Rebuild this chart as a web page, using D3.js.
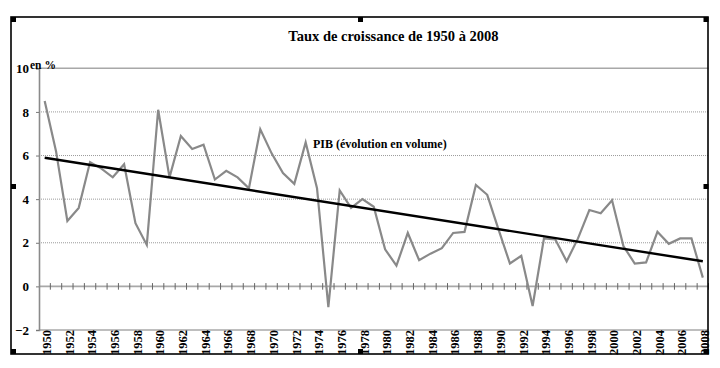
<!DOCTYPE html>
<html>
<head>
<meta charset="utf-8">
<script src="https://cdn.jsdelivr.net/npm/d3@7"></script>
<style>
  body { margin: 0; background: #fff; }
  svg { display: block; font-family: "Liberation Serif", "Times New Roman", serif; }
</style>
</head>
<body>
<div id="chart"></div>
<script>
// Data
const years = d3.range(1950, 2009);
const gdpGrowth = [
  8.5, 6.2, 3.0, 3.6, 5.7, 5.4, 5.0, 5.6, 2.9, 1.9,
  8.1, 5.0, 6.9, 6.3, 6.5, 4.9, 5.3, 5.0, 4.5, 7.2,
  6.1, 5.2, 4.7, 6.6, 4.5, -0.95, 4.4, 3.6, 4.0, 3.65,
  1.7, 0.95, 2.45, 1.2, 1.5, 1.75, 2.45, 2.5, 4.65, 4.2,
  2.6, 1.05, 1.4, -0.9, 2.2, 2.15, 1.15, 2.2, 3.5, 3.35,
  3.95, 1.85, 1.05, 1.1, 2.5, 1.95, 2.2, 2.2, 0.4
];
const trendEnds = [5.9, 1.15]; // linear trend at 1950 and 2008
const yTicks = [-2, 0, 2, 4, 6, 8, 10];
const labelYears = years.filter(y => (y - 1950) % 2 === 0);

const title = 'Taux de croissance de 1950 à 2008';
const seriesLabel = 'PIB (évolution en volume)';
const unitLabel = 'en %';

class GrowthChart {

    width; height; svg; plot;
    scaleX; scaleY;

    constructor(container, width, height) {
        this.width = width;
        this.height = height;
        this.svg = d3.select(container).append('svg')
            .attr('width', width)
            .attr('height', height);
        this.plot = { left: 39, right: 708.5, top: 68.3, bottom: 330 };
    }

    #frame() {
        this.svg.append('rect')
            .attr('x', 11).attr('y', 17)
            .attr('width', 697).attr('height', 337)
            .attr('fill', 'none')
            .attr('stroke', '#000')
            .attr('stroke-width', 1.6);

        // selection handles
        const handles = [[11, 17], [358, 17], [703.5, 17], [11, 184], [703.5, 184],
                         [11, 349], [358, 349], [703.5, 349]];
        this.svg.selectAll('rect.handle')
            .data(handles)
            .join('rect')
            .classed('handle', true)
            .attr('x', d => d[0]).attr('y', d => d[1])
            .attr('width', 5).attr('height', 5)
            .attr('fill', '#000');
    }

    #scales() {
        this.scaleX = d3.scaleBand(years, [this.plot.left, this.plot.right]);
        this.scaleY = d3.scaleLinear([-2, 10], [this.plot.bottom, this.plot.top]);
    }

    #grid() {
        const p = this.plot;
        const solid = d => d === 10 || d === -2 || d === 0;
        this.svg.append('g')
            .selectAll('line')
            .data(yTicks)
            .join('line')
            .attr('x1', p.left).attr('x2', p.right)
            .attr('y1', d => this.scaleY(d)).attr('y2', d => this.scaleY(d))
            .attr('stroke', d => solid(d) ? '#a8a8a8' : '#9a9a9a')
            .attr('stroke-width', d => solid(d) ? 1.6 : 1)
            .attr('stroke-dasharray', d => solid(d) ? null : '1,1');
    }

    #axes() {
        const p = this.plot;

        // y axis
        const ay = this.svg.append('g')
            .attr('transform', `translate(${p.left},0)`)
            .call(d3.axisLeft(this.scaleY).tickValues(yTicks).tickSize(3).tickPadding(7));
        ay.select('.domain').attr('stroke', '#8a8a8a').attr('stroke-width', 1.6);
        ay.selectAll('.tick line').attr('stroke', '#777');
        ay.selectAll('text')
            .attr('font-family', '"Liberation Serif", serif')
            .attr('font-weight', 'bold')
            .attr('font-size', 13)
            .attr('fill', '#000');

        // ticks crossing the zero line, at category boundaries
        const y0 = this.scaleY(0);
        const bounds = years.slice(1).map(y => this.scaleX(y)).concat([p.right]);
        this.svg.append('g')
            .selectAll('line')
            .data(bounds)
            .join('line')
            .attr('x1', d => d).attr('x2', d => d)
            .attr('y1', y0 - 3.3).attr('y2', y0 + 3.3)
            .attr('stroke', '#666')
            .attr('stroke-width', 1);

        // year labels along the bottom
        const ax = this.svg.append('g')
            .attr('transform', `translate(0,${p.bottom})`)
            .call(d3.axisBottom(this.scaleX).tickValues(labelYears).tickSize(0).tickPadding(0));
        ax.select('.domain').remove();
        ax.selectAll('text')
            .attr('font-family', '"Liberation Serif", serif')
            .attr('font-weight', 'bold')
            .attr('font-size', 12.5)
            .attr('fill', '#000')
            .attr('text-anchor', 'end')
            .attr('transform', 'rotate(-90)')
            .attr('x', 0)
            .attr('y', 0)
            .attr('dx', 0)
            .attr('dy', '0.5em');
    }

    #lines() {
        const cx = y => this.scaleX(y) + this.scaleX.bandwidth() / 2;

        const line = d3.line()
            .x(d => cx(d[0]))
            .y(d => this.scaleY(d[1]));

        this.svg.append('path')
            .datum(years.map((y, i) => [y, gdpGrowth[i]]))
            .attr('d', line)
            .attr('fill', 'none')
            .attr('stroke', '#898989')
            .attr('stroke-width', 2.2)
            .attr('stroke-linejoin', 'miter');

        this.svg.append('path')
            .datum([[years[0], trendEnds[0]], [years[years.length - 1], trendEnds[1]]])
            .attr('d', line)
            .attr('fill', 'none')
            .attr('stroke', '#000')
            .attr('stroke-width', 2.4);
    }

    #texts() {
        this.svg.append('text')
            .attr('x', 393.5).attr('y', 41)
            .attr('text-anchor', 'middle')
            .attr('font-weight', 'bold')
            .attr('font-size', 14.5)
            .text(title);

        this.svg.append('text')
            .attr('x', 313).attr('y', 147.5)
            .attr('font-weight', 'bold')
            .attr('font-size', 12)
            .text(seriesLabel);

        // unit label sits just right of the "10" tick label
        this.svg.append('text')
            .attr('x', 30).attr('y', 69)
            .attr('font-weight', 'bold')
            .attr('font-size', 11.5)
            .text(unitLabel);
    }

    render() {
        this.#scales();
        this.#grid();
        this.#axes();
        this.#lines();
        this.#texts();
        this.#frame();
        return this;
    }
}

new GrowthChart('#chart', 720, 368).render();
</script>
</body>
</html>
